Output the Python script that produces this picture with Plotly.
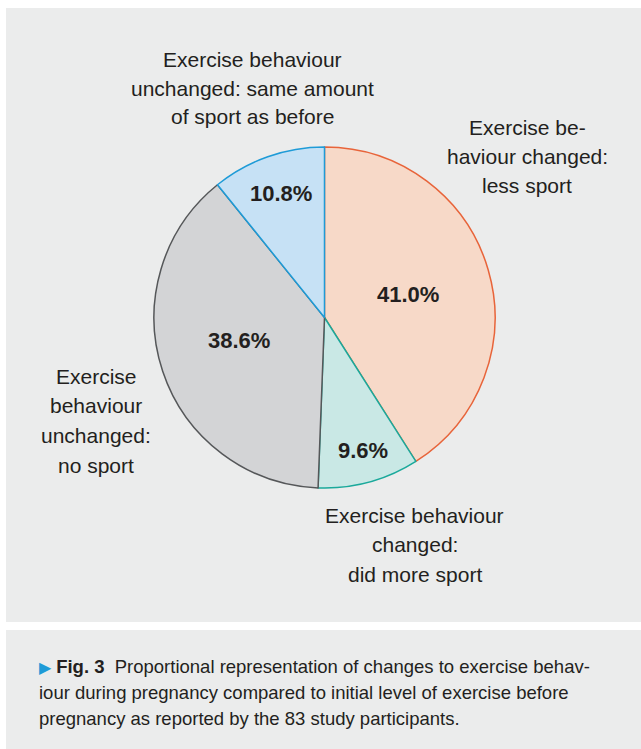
import plotly.graph_objects as go

W, H = 641, 749

categories = [
    "Exercise behaviour changed: less sport",
    "Exercise behaviour changed: did more sport",
    "Exercise behaviour unchanged: no sport",
    "Exercise behaviour unchanged: same amount of sport as before",
]
values = [41.0, 9.6, 38.6, 10.8]
fill_colors = ["#F7D9C8", "#C9E8E5", "#D3D4D6", "#C6E1F5"]
line_colors = ["#E8643A", "#1AA99B", "#555759", "#1E9BD7"]

# label lines for each slice (outside labels)
label_lines = [
    ["Exercise be-", "haviour changed:", "less sport"],
    ["Exercise behaviour", "changed:", "did more sport"],
    ["Exercise", "behaviour", "unchanged:", "no sport"],
    ["Exercise behaviour", "unchanged: same amount", "of sport as before"],
]
pct_labels = [f"{v:.1f}%" for v in values]

caption_lines = [
    "<span style='color:#1E9BD7;font-size:16px'>\u25B6</span> <b>Fig. 3</b>  Proportional representation of changes to exercise behav-",
    "iour during pregnancy compared to initial level of exercise before",
    "pregnancy as reported by the 83 study participants.",
]

FONT = "Liberation Sans, Arial, sans-serif"
TXT = "#231F20"


def px(x):
    return x / W


def py(y):
    return 1 - y / H


cx, cy, r = 324.5, 317.5, 170.5

fig = go.Figure(
    go.Pie(
        labels=categories,
        values=values,
        sort=False,
        direction="clockwise",
        rotation=0,
        marker=dict(colors=fill_colors, line=dict(color=line_colors, width=1.5)),
        textinfo="none",
        hoverinfo="label+percent",
        showlegend=False,
        domain=dict(x=[px(cx - r), px(cx + r)], y=[py(cy + r), py(cy - r)]),
    )
)

shapes = [
    dict(type="rect", xref="paper", yref="paper", x0=px(6), x1=1, y0=py(622), y1=py(8),
         fillcolor="#EBECEC", line=dict(width=0), layer="below"),
    dict(type="rect", xref="paper", yref="paper", x0=px(6), x1=1, y0=0, y1=py(630),
         fillcolor="#EBECEC", line=dict(width=0), layer="below"),
]

annotations = []
# outside label positions (center x, first line y, line spacing)
label_pos = [(527, 127, 29.5), (415, 515, 29.5), (96, 376, 29.7), (252, 60, 28.5)]
for lines, (lx, ly, sp) in zip(label_lines, label_pos):
    for i, t in enumerate(lines):
        annotations.append(dict(x=px(lx), y=py(ly + i * sp), xref="paper", yref="paper",
                                text=t, showarrow=False, xanchor="center", yanchor="middle",
                                font=dict(family=FONT, size=21, color=TXT)))

pct_pos = [(408, 294), (363, 450), (239, 340), (281, 193)]
for t, (lx, ly) in zip(pct_labels, pct_pos):
    annotations.append(dict(x=px(lx), y=py(ly), xref="paper", yref="paper",
                            text=f"<b>{t}</b>", showarrow=False, xanchor="center", yanchor="middle",
                            font=dict(family=FONT, size=22, color=TXT)))

for i, t in enumerate(caption_lines):
    annotations.append(dict(x=px(37), y=py(666 + i * 26), xref="paper", yref="paper",
                            text=t, showarrow=False, xanchor="left", yanchor="middle",
                            font=dict(family=FONT, size=18.5, color=TXT)))

fig.update_layout(
    width=W, height=H,
    margin=dict(l=0, r=0, t=0, b=0),
    paper_bgcolor="white",
    plot_bgcolor="white",
    shapes=shapes,
    annotations=annotations,
)

fig.write_html(
    "out.html",
    config={"displayModeBar": False},
    post_script="document.body.style.margin='0';document.body.style.overflow='hidden';",
)
